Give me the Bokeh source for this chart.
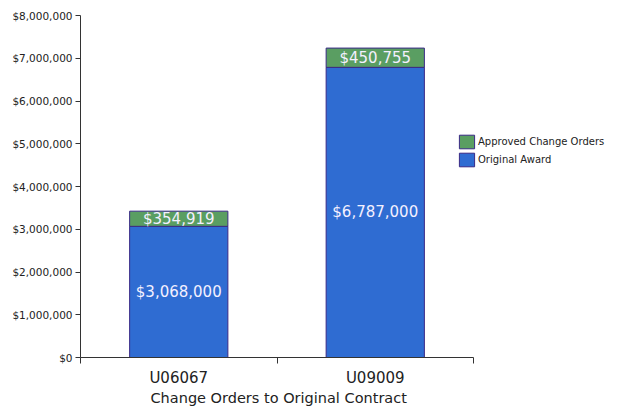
from bokeh.plotting import figure
from bokeh.models import (ColumnDataSource, Range1d, FixedTicker, SingleIntervalTicker,
                          NumeralTickFormatter, Legend, LegendItem, Title)
from bokeh.core.properties import value
from bokeh.embed import file_html
from bokeh.resources import INLINE

categories = ["U06067", "U09009"]
original_award = [3068000, 6787000]
approved_change_orders = [354919, 450755]
series_names = ["Original Award", "Approved Change Orders"]
x_title = "Change Orders to Original Contract"

BLUE = "#2F6CD2"
GREEN = "#5A9E62"
OUTLINE = "#3A2A86"
AXIS = "#333333"
FONT = "DejaVu Sans"

n = len(categories)
xpos = [i + 0.5 for i in range(n)]
# the frame runs on to the right edge so the legend is not clipped;
# the axis line itself is bounded to the category span
x_end = n * 531 / 393

src = ColumnDataSource(dict(
    x=xpos,
    orig=original_award,
    co_top=[o + c for o, c in zip(original_award, approved_change_orders)],
    orig_mid=[v / 2 for v in original_award],
    co_mid=[o + c / 2 for o, c in zip(original_award, approved_change_orders)],
    orig_lbl=[f"${v:,}" for v in original_award],
    co_lbl=[f"${v:,}" for v in approved_change_orders],
))

p = figure(width=611, height=407, x_range=Range1d(0, x_end), y_range=Range1d(0, 8000000),
           output_backend="svg", toolbar_location=None,
           min_border_left=80, min_border_right=0, min_border_top=15, min_border_bottom=0)
p.outline_line_color = None
p.grid.grid_line_color = None

# y axis
ya = p.yaxis[0]
ya.ticker = SingleIntervalTicker(interval=1000000, num_minor_ticks=0)
ya.formatter = NumeralTickFormatter(format="$0,0")
ya.major_tick_out = 5
ya.major_tick_in = 0
ya.minor_tick_line_color = None
ya.axis_line_color = AXIS
ya.major_tick_line_color = AXIS
ya.major_label_text_font = FONT
ya.major_label_text_font_size = "10.5px"
ya.major_label_text_color = "#222222"
ya.major_label_standoff = 3

# x axis: category labels at centres, ticks at category boundaries
xa = p.xaxis[0]
xa.bounds = (0, n)
xa.ticker = FixedTicker(ticks=xpos, minor_ticks=list(range(n + 1)))
xa.major_label_overrides = {x: c for x, c in zip(xpos, categories)}
xa.major_tick_line_color = None
xa.major_tick_out = 0
xa.major_tick_in = 0
xa.minor_tick_out = 6
xa.minor_tick_in = 0
xa.minor_tick_line_color = AXIS
xa.axis_line_color = AXIS
xa.major_label_text_font = FONT
xa.major_label_text_font_size = "15px"
xa.major_label_text_color = "#222222"
xa.major_label_standoff = 5

title = Title(text=x_title, align="left", offset=70, text_font=FONT,
              text_font_size="14.5px", text_font_style="normal", text_color="#222222",
              vertical_align="top", standoff=0)
p.add_layout(title, "below")

r_blue = p.vbar(x="x", top="orig", bottom=0, width=0.5, source=src,
                fill_color=BLUE, line_color=OUTLINE, line_width=1)
r_green = p.vbar(x="x", bottom="orig", top="co_top", width=0.5, source=src,
                 fill_color=GREEN, line_color=OUTLINE, line_width=1)

p.text(x="x", y="orig_mid", text="orig_lbl", source=src, text_align="center",
       text_baseline="middle", text_font=value(FONT), text_font_size="15px", text_color="#F4F0FF")
p.text(x="x", y="co_mid", text="co_lbl", source=src, text_align="center",
       text_baseline="middle", text_font=value(FONT), text_font_size="15px", text_color="#F4F0FF")

legend = Legend(items=[LegendItem(label=series_names[1], renderers=[r_green]),
                       LegendItem(label=series_names[0], renderers=[r_blue])],
                location=(377, 189), glyph_width=19, glyph_height=17, label_height=17,
                label_text_font=FONT, label_text_font_size="10px", label_text_color="#222222",
                label_standoff=2, spacing=1, padding=0, margin=0,
                border_line_color=None, background_fill_alpha=0)
p.add_layout(legend)

open("out.html", "w").write(file_html(p, INLINE))
